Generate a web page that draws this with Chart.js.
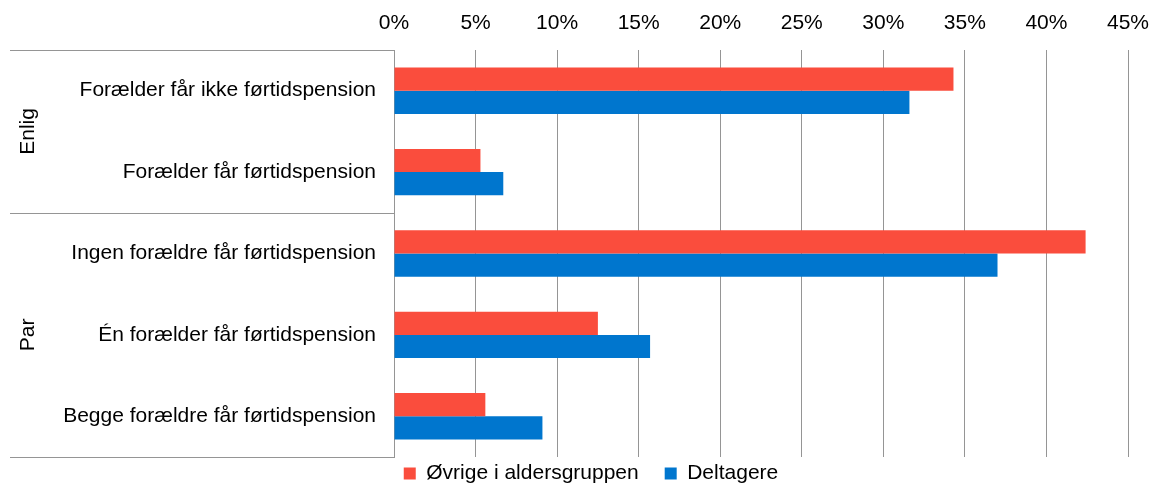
<!DOCTYPE html>
<html>
<head>
<meta charset="utf-8">
<script src="https://cdn.jsdelivr.net/npm/chart.js@4/dist/chart.umd.min.js"></script>
<style>
html,body{margin:0;padding:0;background:#fff;}
#wrap{width:1152px;height:486px;position:relative;}
</style>
</head>
<body>
<div id="wrap"><canvas id="c" width="1152" height="486"></canvas></div>
<script>
const categories = [
  "Forælder får ikke førtidspension",
  "Forælder får førtidspension",
  "Ingen forældre får førtidspension",
  "Én forælder får førtidspension",
  "Begge forældre får førtidspension"
];
const groups = [
  {label: "Enlig", from: 0, to: 1},
  {label: "Par", from: 2, to: 4}
];
const seriesNames = ["Øvrige i aldersgruppen", "Deltagere"];
const ovrige = [0.343, 0.053, 0.424, 0.125, 0.056];
const deltagere = [0.316, 0.067, 0.370, 0.157, 0.091];
const xTicks = [0, 0.05, 0.10, 0.15, 0.20, 0.25, 0.30, 0.35, 0.40, 0.45];

const FONT = "'Liberation Sans', Arial, sans-serif";
const LINE = "#959595";

const groupPlugin = {
  id: 'groups',
  afterLayout(chart) {
    const L = chart.legend;
    if (L) { L.top -= 20; L.height += 20; }
  },
  afterDraw(chart) {
    const ctx = chart.ctx;
    const y = chart.scales.y;
    const area = chart.chartArea;
    const half = (y.getPixelForValue(1) - y.getPixelForValue(0)) / 2;
    ctx.save();
    ctx.strokeStyle = LINE;
    ctx.lineWidth = 1;
    const lx = 10;
    const bounds = new Set();
    groups.forEach(g => {
      bounds.add(Math.round(y.getPixelForValue(g.from) - half));
      bounds.add(Math.round(y.getPixelForValue(g.to) + half));
    });
    bounds.forEach(b => {
      ctx.beginPath();
      ctx.moveTo(lx, b + 0.5);
      ctx.lineTo(area.left, b + 0.5);
      ctx.stroke();
    });
    ctx.fillStyle = "#000";
    ctx.font = "21px " + FONT;
    ctx.textAlign = "center";
    ctx.textBaseline = "middle";
    groups.forEach(g => {
      const cy = (y.getPixelForValue(g.from) - half + y.getPixelForValue(g.to) + half) / 2;
      ctx.save();
      ctx.translate(28, cy);
      ctx.rotate(-Math.PI / 2);
      ctx.fillText(g.label, 0, 0);
      ctx.restore();
    });
    ctx.restore();
  }
};

new Chart(document.getElementById('c'), {
  type: 'bar',
  data: {
    labels: categories,
    datasets: [
      {label: seriesNames[0], data: ovrige, backgroundColor: '#fa4d3d', borderWidth: 0},
      {label: seriesNames[1], data: deltagere, backgroundColor: '#0076ce', borderWidth: 0}
    ]
  },
  options: {
    indexAxis: 'y',
    responsive: false,
    animation: false,
    events: [],
    layout: {padding: {left: 54, right: 24, top: 0, bottom: 0}},
    datasets: {bar: {categoryPercentage: 0.57, barPercentage: 1}},
    scales: {
      x: {
        position: 'top',
        min: 0, max: 0.45,
        afterBuildTicks(s) { s.ticks = xTicks.map(v => ({value: v})); },
        afterFit(s) { s.height = 50; s.paddingLeft = 0; s.paddingRight = 0; },
        ticks: {
          padding: 14,
          color: '#000',
          font: {family: FONT, size: 21},
          callback: v => Math.round(v * 100) + '%'
        },
        grid: {color: LINE, lineWidth: 1, drawTicks: false},
        border: {display: false}
      },
      y: {
        afterFit(s) { s.width = 340; s.paddingTop = 0; s.paddingBottom = 0; },
        ticks: {
          padding: 18,
          color: '#000',
          font: {family: FONT, size: 21}
        },
        grid: {display: false, drawTicks: false},
        border: {display: true, color: LINE, width: 1}
      }
    },
    plugins: {
      legend: {
        position: 'bottom',
        maxHeight: 29,
        labels: {
          boxWidth: 12, boxHeight: 12,
          padding: 26,
          color: '#000',
          font: {family: FONT, size: 21}
        }
      },
      tooltip: {enabled: false}
    }
  },
  plugins: [groupPlugin]
});
</script>
</body>
</html>
